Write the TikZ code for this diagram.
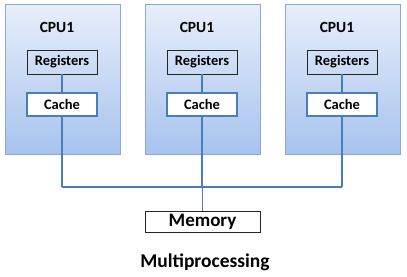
\documentclass[tikz,border=0pt]{standalone}
\usepackage{fontspec}
\setmainfont{Carlito}
\definecolor{linec}{RGB}{74,126,187}
\definecolor{cpuborder}{RGB}{140,168,210}
\definecolor{cputop}{RGB}{232,238,250}
\definecolor{cpubot}{RGB}{166,195,238}
\begin{document}
\begin{tikzpicture}[x=1pt,y=1pt,
  cpubox/.style={draw=cpuborder,line width=1pt,top color=cputop,bottom color=cpubot,minimum width=115pt,minimum height=150pt,inner sep=0pt,anchor=south west},
  regbox/.style={draw=black!85,line width=0.8pt,minimum width=70pt,minimum height=24pt,inner sep=0pt,font=\bfseries\fontsize{14.5}{16}\selectfont},
  cachebox/.style={draw=linec,line width=1.8pt,fill=white,minimum width=70pt,minimum height=23pt,inner sep=0pt,font=\bfseries\fontsize{14.5}{16}\selectfont},
  cpulabel/.style={font=\bfseries\fontsize{15.5}{18}\selectfont,inner sep=0pt},
  bus/.style={draw=linec,line width=1.5pt},
  membox/.style={draw=black!85,line width=0.8pt,fill=white,minimum width=115pt,minimum height=21pt,inner sep=0pt,font=\bfseries\fontsize{19}{22}\selectfont}]
\useasboundingbox (0,0) rectangle (407,276);
\foreach \i in {0,1,2}{
  \pgfmathsetmacro{\xo}{5+140*\i}
  \node[cpubox] (cpu\i) at (\xo,121) {};
  \node[cpulabel] (lab\i) at (\xo+52,249) {CPU1};
  \node[regbox] (reg\i) at (\xo+57,214) {Registers};
  \node[cachebox] (cache\i) at (\xo+57,171.5) {Cache};
  \coordinate (b\i) at (\xo+57,89);
  \draw[bus] (reg\i.south) -- (cache\i.north);
  \draw[bus] (cache\i.south) -- (b\i);
}
\node[membox] (mem) at (202.5,54.5) {Memory};
\coordinate (bm) at (mem.north |- b0);
\draw[bus] (b0) -- (b2);
\draw[bus] (bm) -- (mem.north);
\node[font=\bfseries\fontsize{19.5}{22}\selectfont,inner sep=0pt] (title) at (205,14) {Multiprocessing};
\end{tikzpicture}
\end{document}
